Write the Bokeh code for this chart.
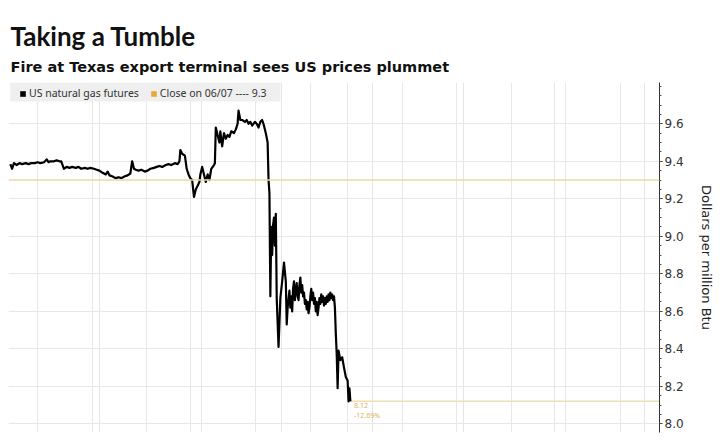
from bokeh.plotting import figure
from bokeh.models import (Range1d, FixedTicker, Title, Legend, LegendItem, Grid,
                          NumeralTickFormatter, Span, BoxAnnotation)
from bokeh.core.properties import value
from bokeh.embed import file_html
from bokeh.resources import INLINE

# ---- data (minutes from chart start, $/MMBtu) ----
minutes = [2, 4, 6, 9, 12, 15, 19, 22, 25, 29, 32, 35, 39, 42, 44, 46, 50, 53, 56, 58,
           61, 64, 67, 70, 74, 77, 80, 84, 87, 90, 94, 97, 100, 103, 107, 109, 111, 114, 118, 121,
           124, 128, 131, 134, 136, 138, 140, 143, 146, 150, 153, 156, 160, 163, 166, 169, 173, 176, 179, 183,
           186, 188, 189, 191, 194, 196, 198, 200, 202, 204, 206, 208, 210, 211, 213, 216, 217, 219, 221, 223,
           226, 227, 228, 230, 232, 233, 235, 237, 239, 241, 243, 245, 248, 250, 252, 253, 255, 257, 260, 262,
           264, 266, 268, 271, 273, 275, 277, 279, 281, 283, 285, 286, 287, 288, 289, 290, 291, 292, 293, 294,
           295, 297, 299, 301, 303, 305, 306, 307, 309, 310, 311, 312, 313, 314, 315, 316, 317, 318, 319, 320,
           321, 322, 323, 324, 325, 326, 327, 328, 329, 330, 331, 332, 333, 334, 335, 336, 337, 338, 339, 340,
           341, 342, 343, 344, 345, 346, 347, 348, 349, 350, 351, 352, 353, 354, 355, 356, 357, 358,
           359, 360, 361, 362, 363, 365, 367, 369, 371, 373, 374, 375, 376]
prices = [9.385, 9.36, 9.39, 9.38, 9.39, 9.385, 9.39, 9.385, 9.39, 9.39, 9.395, 9.39, 9.395, 9.41, 9.395, 9.40, 9.40, 9.405, 9.40, 9.40,
          9.36, 9.37, 9.365, 9.37, 9.365, 9.37, 9.36, 9.365, 9.36, 9.365, 9.36, 9.355, 9.35, 9.34, 9.33, 9.345, 9.325, 9.32, 9.31, 9.315,
          9.31, 9.32, 9.325, 9.335, 9.40, 9.36, 9.355, 9.35, 9.355, 9.345, 9.35, 9.36, 9.365, 9.37, 9.375, 9.37, 9.38, 9.385, 9.38, 9.39,
          9.385, 9.40, 9.46, 9.44, 9.43, 9.36, 9.33, 9.31, 9.30, 9.21, 9.25, 9.27, 9.29, 9.33, 9.37, 9.31, 9.29, 9.33, 9.30, 9.36,
          9.38, 9.39, 9.58, 9.54, 9.50, 9.56, 9.48, 9.55, 9.52, 9.54, 9.53, 9.56, 9.55, 9.57, 9.60, 9.67, 9.62, 9.62, 9.61, 9.62,
          9.60, 9.61, 9.59, 9.61, 9.60, 9.58, 9.61, 9.62, 9.59, 9.55, 9.50, 9.30, 9.23, 8.68, 9.05, 8.90, 9.06, 9.10, 8.95, 9.12,
          8.67, 8.41, 8.67, 8.76, 8.86, 8.76, 8.53, 8.62, 8.71, 8.62, 8.68, 8.60, 8.72, 8.76, 8.66, 8.72, 8.75, 8.68, 8.66, 8.74,
          8.78, 8.70, 8.74, 8.68, 8.70, 8.64, 8.66, 8.61, 8.65, 8.59, 8.62, 8.68, 8.72, 8.66, 8.70, 8.64, 8.67, 8.60, 8.65, 8.58,
          8.62, 8.67, 8.64, 8.69, 8.65, 8.68, 8.63, 8.67, 8.64, 8.68, 8.65, 8.69, 8.66, 8.70, 8.67, 8.69, 8.66, 8.68,
          8.62, 8.48, 8.37, 8.19, 8.39, 8.34, 8.355, 8.30, 8.25, 8.23, 8.12, 8.19, 8.12]

prev_close = 9.3
last_price = prices[-1]
pct_change = (last_price - prev_close) / prev_close * 100

y_ticks = [8.0, 8.2, 8.4, 8.6, 8.8, 9.0, 9.2, 9.4, 9.6]
x_grid = [32, 92, 152, 212, 272, 332, 373, 433, 493, 553, 613, 673]

title_text = "Taking a Tumble"
subtitle_text = "Fire at Texas export terminal sees US prices plummet"
series_label = "US natural gas futures"
close_label = "Close on 06/07 ---- 9.3"
y_label = "Dollars per million Btu"

nan = float("nan")
X0, X1 = 0, 716
Y0, Y1 = 7.954, 9.82

# ---- figure ----
p = figure(width=720, height=440, output_backend="svg", toolbar_location=None,
           x_axis_location=None, y_axis_location="right",
           x_range=Range1d(X0, X1), y_range=Range1d(Y0, Y1),
           min_border_left=8, min_border_bottom=8, min_border_right=61, min_border_top=82)
p.outline_line_color = None
p.background_fill_color = "white"

# titles
p.title.text = ""
p.title.visible = False
sub = Title(text=subtitle_text, text_font="DejaVu Sans", text_font_style="bold",
            text_font_size="14.5px", text_color="#111111", offset=2, standoff=16)
main = Title(text=title_text, text_font="Lato", text_font_style="bold",
             text_font_size="26px", text_color="#111111", offset=2, standoff=-6)
p.add_layout(sub, "above")
p.add_layout(main, "above")

# grid
p.add_layout(Grid(dimension=0, ticker=FixedTicker(ticks=x_grid), grid_line_color="#e8e8e8"))
p.ygrid.grid_line_color = "#e8e8e8"

ya = p.yaxis[0]
ya.ticker = FixedTicker(ticks=y_ticks, minor_ticks=[round(8.0 + 0.05 * i, 2) for i in range(-1, 37)])
ya.formatter = NumeralTickFormatter(format="0.0")
ya.axis_line_color = "#333333"
ya.major_tick_line_color = "#333333"
ya.minor_tick_line_color = "#555555"
ya.major_tick_out = 3
ya.major_tick_in = 0
ya.minor_tick_out = 2
ya.minor_tick_in = 0
ya.major_label_standoff = 2
ya.major_label_text_font = "DejaVu Sans"
ya.major_label_text_font_size = "12px"
ya.major_label_text_color = "#333333"
ya.axis_label = y_label
ya.axis_label_text_font = "DejaVu Sans"
ya.axis_label_text_font_style = "normal"
ya.axis_label_text_font_size = "13px"
ya.axis_label_text_color = "#222222"
ya.axis_label_standoff = 12

# legend background strip (top-left of the frame)
p.add_layout(BoxAnnotation(left=X0 + 2, right=X0 + 299, top=Y1, bottom=Y1 - 0.101,
                           fill_color="#efefef", fill_alpha=1.0, line_color=None, level="underlay"))

# reference lines
p.add_layout(Span(location=prev_close, dimension="width", line_color="#e9d9a6", line_width=1.5))
p.segment(x0=[minutes[-1]], y0=[last_price], x1=[X1], y1=[last_price],
          line_color="#eedfb0", line_width=1.5)

# series
p.line(minutes, prices, line_color="black", line_width=2.2, line_join="round")

# last price labels
p.text(x=[minutes[-1] + 4, minutes[-1] + 4], y=[last_price - 0.01, last_price - 0.05],
       text=["%.2f" % last_price, "%.2f%%" % pct_change],
       text_font=value("Noto Sans"), text_font_size="7px", text_color="#d8b45e",
       text_baseline="top", text_align="left")

# legend (swatch renderers carry no visible data)
sq_black = p.quad(left=[nan], right=[nan], top=[nan], bottom=[nan], fill_color="black", line_color=None)
sq_gold = p.quad(left=[nan], right=[nan], top=[nan], bottom=[nan], fill_color="#e5a93a", line_color=None)
leg = Legend(items=[LegendItem(label=series_label, renderers=[sq_black]),
                    LegendItem(label=close_label, renderers=[sq_gold])],
             location=(11, 332), orientation="horizontal", margin=0, padding=4,
             glyph_width=7, glyph_height=7, label_height=10, label_standoff=3, spacing=11,
             label_text_font="Noto Sans", label_text_font_size="10.5px",
             label_text_color="#333333", background_fill_alpha=0.0, border_line_color=None)
p.add_layout(leg)

open("out.html", "w").write(file_html(p, INLINE))
